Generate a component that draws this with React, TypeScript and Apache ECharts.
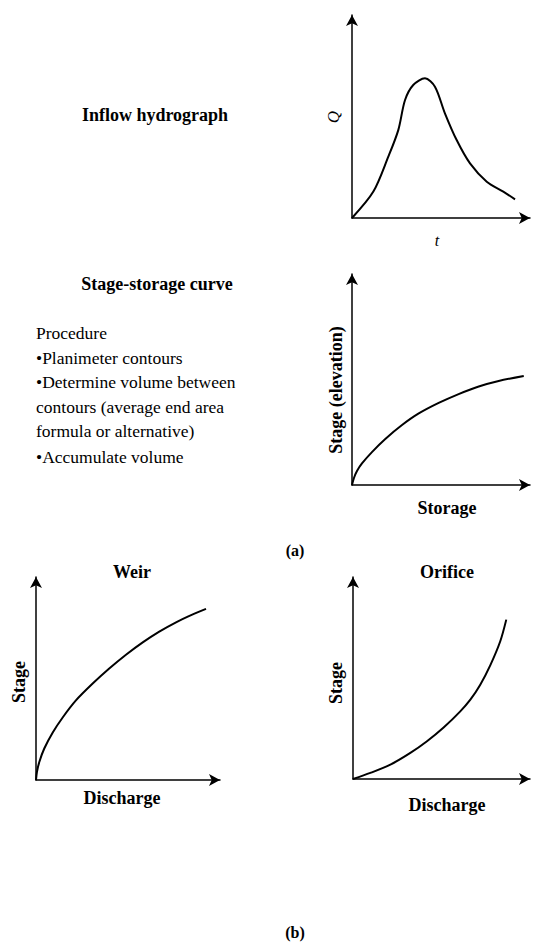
import React, { useEffect, useRef } from "react";
import * as echarts from "echarts";

// Inflow hydrograph (t, Q) in axis units 0..100
const hydroT = [0, 12, 20.4, 26, 29.8, 34.4, 41, 46.6, 52.2, 58.8, 66.3, 75.7, 85, 91.6];
const hydroQ = [0, 13, 30.2, 43.3, 58.1, 65.5, 68.8, 64.7, 51.6, 38.4, 26.9, 17.9, 13, 9.2];

// Stage-storage curve
const storageX = [0, 1.1, 2.8, 5.6, 11.2, 18.7, 28.1, 37.5, 48.7, 59.9, 71.2, 82.4, 96.5];
const storageStage = [0, 3.3, 6.6, 10.2, 15.6, 21.8, 28.4, 33.9, 38.9, 43.1, 46.7, 49.3, 51.7];

// Weir rating curve
const weirQ = [0, 0.5, 1.8, 4.5, 9.1, 14.5, 21.7, 30.8, 39.8, 48.9, 58, 67, 76.1, 85.2, 92.4];
const weirStage = [0, 3.9, 8.9, 15.5, 23.4, 30.8, 39.2, 47.5, 54.9, 61.7, 67.8, 73.1, 77.7, 81.6, 84.3];

// Orifice rating curve
const orificeQ = [0, 9.8, 21.1, 32.4, 41.8, 51.2, 60.6, 66.3, 71.9, 77.6, 83.2, 86.6];
const orificeStage = [0, 3, 7.1, 12.9, 18.7, 25.5, 33.5, 39.3, 46.7, 56.4, 68.2, 78.9];

const procedureLines = [
  "Procedure",
  "•Planimeter contours",
  "•Determine volume between",
  "contours (average end area",
  "formula or alternative)",
  "•Accumulate volume",
];

const SERIF = "'Liberation Serif', 'Times New Roman', Times, serif";

function zip(xs: number[], ys: number[]) {
  return xs.map((x, i) => [x, ys[i]]);
}

export default function App() {
  const ref = useRef<HTMLDivElement>(null);
  useEffect(() => {
    if (!ref.current) return;
    const chart = echarts.init(ref.current, undefined, { renderer: "svg" });
    const grids = [
      { left: 352, top: 15, width: 178, height: 203 },
      { left: 352, top: 274, width: 178, height: 211 },
      { left: 36, top: 577, width: 184, height: 203 },
      { left: 353, top: 577, width: 177, height: 202 },
    ];
    const axisBase = {
      type: "value" as const,
      min: 0,
      max: 100,
      axisLine: {
        show: true,
        symbol: ["none", "arrow"],
        symbolSize: [9, 11],
        lineStyle: { color: "#000", width: 1.5 },
      },
      axisTick: { show: false },
      axisLabel: { show: false },
      splitLine: { show: false },
    };
    const xAxis = grids.map((_, i) => ({ ...axisBase, gridIndex: i }));
    const yAxis = grids.map((_, i) => ({ ...axisBase, gridIndex: i }));
    const datasets = [
      zip(hydroT, hydroQ),
      zip(storageX, storageStage),
      zip(weirQ, weirStage),
      zip(orificeQ, orificeStage),
    ];
    const series = datasets.map((d, i) => ({
      type: "line" as const,
      xAxisIndex: i,
      yAxisIndex: i,
      data: d,
      smooth: 0.3,
      showSymbol: false,
      lineStyle: { color: "#000", width: 2 },
    }));

    const txt = (
      text: string,
      x: number,
      y: number,
      size: number,
      weight = "bold",
      style = "normal",
      rotation = 0,
      align = "center"
    ) => ({
      type: "text",
      x,
      y,
      rotation,
      style: {
        text,
        x: 0,
        y: 0,
        fontFamily: SERIF,
        fontSize: size,
        fontWeight: weight,
        fontStyle: style,
        fill: "#000",
        textAlign: align,
        textVerticalAlign: "middle",
      },
    });
    const R = Math.PI / 2;

    const graphics: any[] = [
      txt("Inflow hydrograph", 155, 115, 18),
      txt("Q", 333, 117, 17, "normal", "italic", R),
      txt("t", 437, 240, 16, "normal", "italic"),
      txt("Stage-storage curve", 157, 284, 18),
      txt("Stage (elevation)", 336, 390, 18, "bold", "normal", R),
      txt("Storage", 447, 508, 18),
      txt("(a)", 295, 550, 16),
      txt("Weir", 132, 572, 18),
      txt("Stage", 19, 682, 18, "bold", "normal", R),
      txt("Discharge", 122, 798, 18),
      txt("Orifice", 447, 572, 18),
      txt("Stage", 336, 683, 18, "bold", "normal", R),
      txt("Discharge", 447, 805, 18),
      txt("(b)", 295, 932, 16),
    ];
    const lineYs = [333, 357.5, 382.4, 407, 431, 456.5];
    procedureLines.forEach((l, i) => {
      graphics.push(txt(l, 36, lineYs[i], 17.5, "normal", "normal", 0, "left"));
    });

    chart.setOption({
      animation: false,
      backgroundColor: "#fff",
      grid: grids,
      xAxis,
      yAxis,
      series,
      graphic: graphics,
    });
    return () => chart.dispose();
  }, []);
  return (
    <div
      ref={ref}
      style={{ position: "fixed", left: 0, top: 0, width: 535, height: 942, background: "#fff" }}
    />
  );
}
